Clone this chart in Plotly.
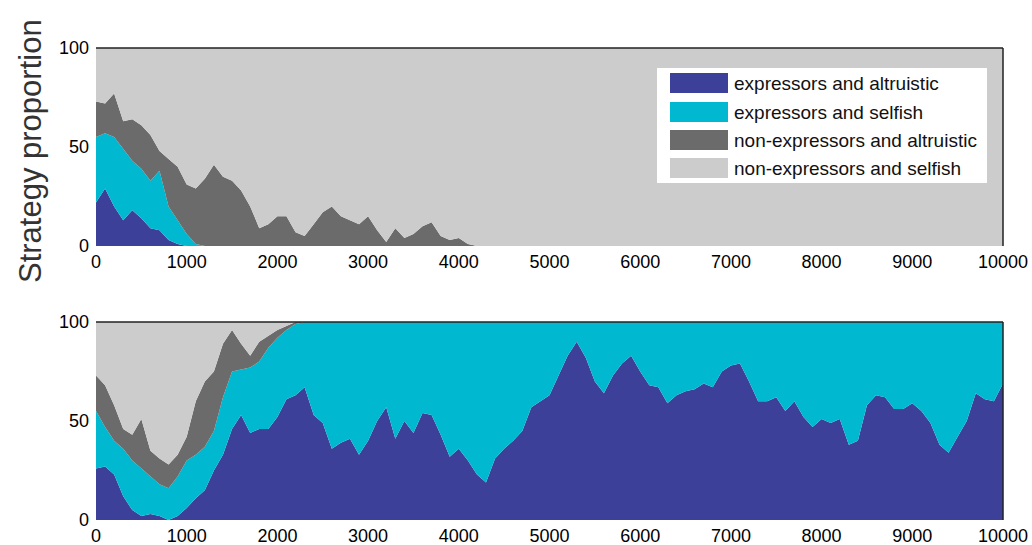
import plotly.graph_objects as go

W, H = 1032, 545

generations = list(range(0, 10001, 100))
x_tick_vals = [0, 1000, 2000, 3000, 4000, 5000, 6000, 7000, 8000, 9000, 10000]
x_tick_text = ["0", "1000", "2000", "3000", "4000", "5000", "6000", "7000", "8000", "9000", "10000"]
y_tick_vals = [0, 50, 100]
y_tick_text = ["0", "50", "100"]

series_names = ["expressors and altruistic", "expressors and selfish",
                "non-expressors and altruistic", "non-expressors and selfish"]
series_colors = ["#3c4099", "#00b8d0", "#6b6b6b", "#cccccc"]

# ---- top panel (values in %) ----
top_expr_altr = [22, 29, 20, 13, 18, 14, 9, 8, 3, 1, 0,
                 0, 0, 0, 0, 0, 0, 0, 0, 0, 0, 0, 0, 0, 0, 0, 0, 0, 0, 0,
                 0, 0, 0, 0, 0, 0, 0, 0, 0, 0, 0, 0, 0, 0, 0, 0, 0, 0, 0, 0,
                 0, 0, 0, 0, 0, 0, 0, 0, 0, 0, 0, 0, 0, 0, 0, 0, 0, 0, 0, 0,
                 0, 0, 0, 0, 0, 0, 0, 0, 0, 0, 0, 0, 0, 0, 0, 0, 0, 0, 0, 0,
                 0, 0, 0, 0, 0, 0, 0, 0, 0, 0]
top_expr_self = [33, 28, 35, 36, 25, 25, 24, 30, 17, 12, 6, 1,
                 0, 0, 0, 0, 0, 0, 0, 0, 0, 0, 0, 0, 0, 0, 0, 0, 0, 0,
                 0, 0, 0, 0, 0, 0, 0, 0, 0, 0, 0, 0, 0, 0, 0, 0, 0, 0, 0, 0,
                 0, 0, 0, 0, 0, 0, 0, 0, 0, 0, 0, 0, 0, 0, 0, 0, 0, 0, 0, 0,
                 0, 0, 0, 0, 0, 0, 0, 0, 0, 0, 0, 0, 0, 0, 0, 0, 0, 0, 0, 0,
                 0, 0, 0, 0, 0, 0, 0, 0, 0, 0, 0]
top_nonexpr_altr = [18, 15, 22, 14, 21, 22, 23, 10, 24, 27,
                    25, 28, 34, 41, 35, 33, 28, 20, 9, 11,
                    15, 15, 7, 5, 11, 17, 20, 15, 13, 11,
                    15, 8, 2, 9, 4, 6, 10, 12, 5, 3,
                    4, 1, 0, 0, 0, 0, 0, 0, 0, 0,
                    0, 0, 0, 0, 0, 0, 0, 0, 0, 0,
                    0, 0, 0, 0, 0, 0, 0, 0, 0, 0,
                    0, 0, 0, 0, 0, 0, 0, 0, 0, 0,
                    0, 0, 0, 0, 0, 0, 0, 0, 0, 0,
                    0, 0, 0, 0, 0, 0, 0, 0, 0, 0, 0]
top_nonexpr_self = [27, 28, 23, 37, 36, 39, 44, 52, 56, 60,
                    69, 71, 66, 59, 65, 67, 72, 80, 91, 89,
                    85, 85, 93, 95, 89, 83, 80, 85, 87, 89,
                    85, 92, 98, 91, 96, 94, 90, 88, 95, 97,
                    96, 99, 100, 100, 100, 100, 100, 100, 100, 100,
                    100, 100, 100, 100, 100, 100, 100, 100, 100, 100,
                    100, 100, 100, 100, 100, 100, 100, 100, 100, 100,
                    100, 100, 100, 100, 100, 100, 100, 100, 100, 100,
                    100, 100, 100, 100, 100, 100, 100, 100, 100, 100,
                    100, 100, 100, 100, 100, 100, 100, 100, 100, 100, 100]

# ---- bottom panel (values in %) ----
bot_expr_altr = [26, 27, 23, 12, 5, 2, 3, 2, 0, 2,
                 6, 11, 15, 25, 33, 46, 53, 44, 46, 46,
                 52, 61, 63, 67, 53, 49, 36, 39, 41, 33,
                 40, 50, 57, 41, 50, 44, 54, 53, 43, 32,
                 36, 30, 23, 19, 31, 36, 40, 45, 57, 60,
                 63, 73, 83, 90, 82, 70, 64, 73, 79, 83,
                 75, 68, 67, 59, 63, 65, 66, 69, 67, 75,
                 78, 79, 70, 60, 60, 62, 55, 60, 52, 47,
                 51, 49, 51, 38, 40, 58, 63, 62, 56, 56,
                 59, 55, 49, 38, 34, 42, 50, 64, 61, 60, 69]
bot_expr_self = [29, 20, 17, 24, 25, 24, 19, 16, 16, 20,
                 24, 22, 22, 20, 29, 29, 23, 33, 34, 41,
                 40, 35, 36, 33, 47, 51, 64, 61, 59, 67,
                 60, 50, 43, 59, 50, 56, 46, 47, 57, 68,
                 64, 70, 77, 81, 69, 64, 60, 55, 43, 40,
                 37, 27, 17, 10, 18, 30, 36, 27, 21, 17,
                 25, 32, 33, 41, 37, 35, 34, 31, 33, 25,
                 22, 21, 30, 40, 40, 38, 45, 40, 48, 53,
                 49, 51, 49, 62, 60, 42, 37, 38, 44, 44,
                 41, 45, 51, 62, 66, 58, 50, 36, 39, 40, 31]
bot_nonexpr_altr = [18, 21, 18, 10, 13, 25, 13, 13, 12, 11,
                    12, 27, 33, 30, 27, 21, 13, 6, 10, 6,
                    4, 2, 1, 0, 0, 0, 0, 0, 0, 0,
                    0, 0, 0, 0, 0, 0, 0, 0, 0, 0,
                    0, 0, 0, 0, 0, 0, 0, 0, 0, 0,
                    0, 0, 0, 0, 0, 0, 0, 0, 0, 0,
                    0, 0, 0, 0, 0, 0, 0, 0, 0, 0,
                    0, 0, 0, 0, 0, 0, 0, 0, 0, 0,
                    0, 0, 0, 0, 0, 0, 0, 0, 0, 0,
                    0, 0, 0, 0, 0, 0, 0, 0, 0, 0, 0]
bot_nonexpr_self = [27, 32, 42, 54, 57, 49, 65, 69, 72, 67,
                    58, 40, 30, 25, 11, 4, 11, 17, 10, 7,
                    4, 2, 0, 0, 0, 0, 0, 0, 0, 0,
                    0, 0, 0, 0, 0, 0, 0, 0, 0, 0,
                    0, 0, 0, 0, 0, 0, 0, 0, 0, 0,
                    0, 0, 0, 0, 0, 0, 0, 0, 0, 0,
                    0, 0, 0, 0, 0, 0, 0, 0, 0, 0,
                    0, 0, 0, 0, 0, 0, 0, 0, 0, 0,
                    0, 0, 0, 0, 0, 0, 0, 0, 0, 0,
                    0, 0, 0, 0, 0, 0, 0, 0, 0, 0, 0]

top_series = [top_expr_altr, top_expr_self, top_nonexpr_altr, top_nonexpr_self]
bot_series = [bot_expr_altr, bot_expr_self, bot_nonexpr_altr, bot_nonexpr_self]

fig = go.Figure()
for panel, (series, xa, ya) in enumerate([(top_series, "x", "y"), (bot_series, "x2", "y2")]):
    for name, vals, col in zip(series_names, series, series_colors):
        fig.add_trace(go.Scatter(
            x=generations, y=vals, name=name, mode="lines",
            stackgroup="top" if panel == 0 else "bot",
            line=dict(width=0, color=col), fillcolor=col,
            xaxis=xa, yaxis=ya, showlegend=False, hoverinfo="skip"))

def px_x(p):
    return p / W

def px_y(p):
    return 1 - p / H

tick_font = dict(family="Liberation Sans, Arial, sans-serif", size=18, color="#000000")
xdom = [px_x(96), px_x(1003)]
common_x = dict(range=[0, 10000], tickvals=x_tick_vals, ticktext=x_tick_text,
                showgrid=False, zeroline=False, showline=False, ticks="",
                tickfont=tick_font, domain=xdom, automargin=False,
                ticklabelstandoff=3)
common_y = dict(range=[0, 100], tickvals=y_tick_vals, ticktext=y_tick_text,
                showgrid=False, zeroline=False, showline=False, ticks="",
                tickfont=tick_font, automargin=False, ticklabelstandoff=6)

fig.update_layout(
    width=W, height=H,
    margin=dict(l=0, r=0, t=0, b=0, autoexpand=False),
    paper_bgcolor="white", plot_bgcolor="white",
    showlegend=False,
    xaxis=dict(**common_x, anchor="y"),
    yaxis=dict(**common_y, domain=[px_y(246), px_y(48)], anchor="x"),
    xaxis2=dict(**common_x, anchor="y2"),
    yaxis2=dict(**common_y, domain=[px_y(520), px_y(322)], anchor="x2"),
)

shapes = []
for xr, yr in [("x domain", "y domain"), ("x2 domain", "y2 domain")]:
    shapes.append(dict(type="line", xref=xr, yref=yr, x0=0, x1=1, y0=1, y1=1,
                       line=dict(color="#222222", width=1.5)))
    shapes.append(dict(type="line", xref=xr, yref=yr, x0=1, x1=1, y0=0, y1=1,
                       line=dict(color="#222222", width=1.5)))

# custom legend box
shapes.append(dict(type="rect", xref="paper", yref="paper",
                   x0=px_x(657), x1=px_x(987), y0=px_y(183), y1=px_y(68),
                   fillcolor="white", line=dict(width=0)))
annotations = []
row_centers = [83, 112, 140, 168]
for name, col, cy in zip(series_names, series_colors, row_centers):
    shapes.append(dict(type="rect", xref="paper", yref="paper",
                       x0=px_x(670), x1=px_x(728), y0=px_y(cy + 10), y1=px_y(cy - 10),
                       fillcolor=col, line=dict(width=0)))
    annotations.append(dict(text=name, xref="paper", yref="paper",
                            x=px_x(732), y=px_y(cy), xanchor="left", yanchor="middle",
                            showarrow=False,
                            font=dict(family="Liberation Sans, Arial, sans-serif", size=19,
                                      color="#111111")))

annotations.append(dict(text="Strategy proportion", xref="paper", yref="paper",
                        x=px_x(30), y=px_y(151), xanchor="center", yanchor="middle",
                        textangle=-90, showarrow=False,
                        font=dict(family="Liberation Sans, Arial, sans-serif", size=31,
                                  color="#333333")))

fig.update_layout(shapes=shapes, annotations=annotations)
fig.write_html("out.html")
